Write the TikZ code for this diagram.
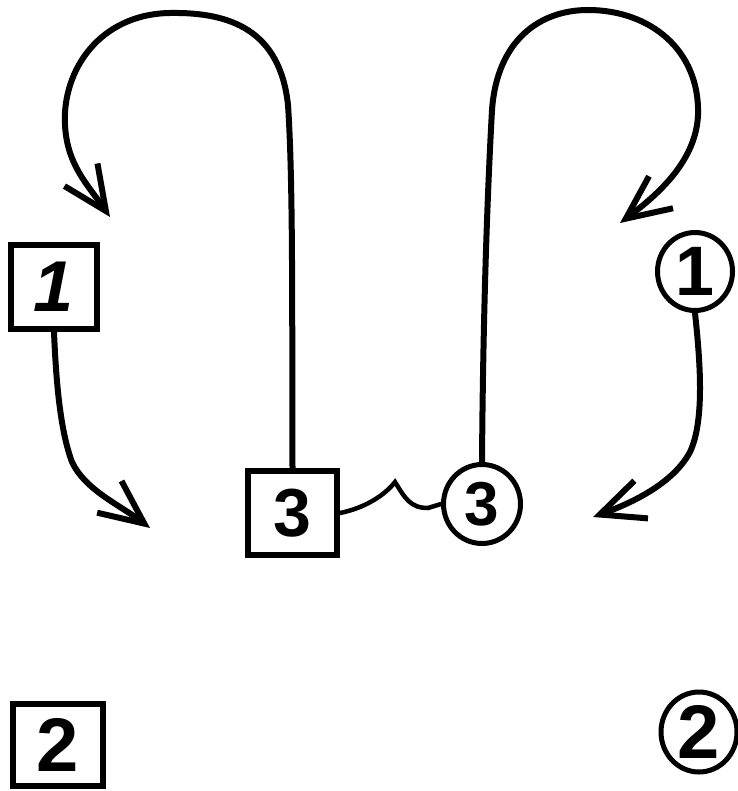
\documentclass[tikz,border=0pt]{standalone}
\usepackage{fontspec}
\setmainfont{Liberation Sans}
\usetikzlibrary{arrows.meta,shapes.geometric}
\begin{document}
\begin{tikzpicture}[x=1pt,y=-1pt,
  boxnode/.style={draw,line width=6pt,rectangle,inner sep=0pt},
  ringnode/.style={draw,line width=5pt,ellipse,inner sep=0pt},
  flow/.style={line width=6pt,line cap=round,line join=round,
    -{Straight Barb[length=44pt,width=40pt,line width=6pt]}},
  wave/.style={line width=4.5pt,line cap=round}]
\useasboundingbox[fill=white] (0,0) rectangle (737,791);
% nodes
\node[boxnode,minimum width=86pt,minimum height=84pt,font=\bfseries\fontsize{72}{72}\selectfont] (b1) at (54,287) {\itshape 1};
\node[boxnode,minimum width=89pt,minimum height=84pt,font=\bfseries\fontsize{68}{68}\selectfont] (b3) at (292.5,513) {3};
\node[boxnode,minimum width=90pt,minimum height=82pt,font=\bfseries\fontsize{76}{76}\selectfont] (b2) at (58,745) {2};
\node[ringnode,minimum width=75pt,minimum height=78pt,font=\bfseries\fontsize{70}{70}\selectfont] (c1) at (695,271.5) {1};
\node[ringnode,minimum width=77pt,minimum height=79pt,font=\bfseries\fontsize{62}{62}\selectfont] (c3) at (482,504) {3};
\node[ringnode,minimum width=76pt,minimum height=80pt,font=\bfseries\fontsize{76}{76}\selectfont] (c2) at (699,732) {2};
% free ends
\coordinate (tipA) at (110,217);
\coordinate (tipB) at (150,528);
\coordinate (tipC) at (620,223);
\coordinate (tipD) at (593,517);
\coordinate (peak) at (395,482);
% connectors
\draw[flow] (b3.north) .. controls (292,300) and (293,180) .. (288,105)
  .. controls (280,30) and (230,12) .. (170,13)
  .. controls (100,14) and (62,70) .. (65,125)
  .. controls (67,165) and (88,185) .. (tipA);
\draw[flow] (b1.south) .. controls (56,380) and (60,430) .. (72,462)
  .. controls (85,490) and (120,505) .. (tipB);
\draw[flow] (c3.north) .. controls (483,320) and (487,200) .. (492,110)
  .. controls (497,40) and (540,10) .. (588,10)
  .. controls (650,10) and (700,50) .. (698,115)
  .. controls (696,160) and (660,193) .. (tipC);
\draw[flow] (c1.south) .. controls (700,360) and (705,420) .. (690,452)
  .. controls (675,480) and (640,500) .. (tipD);
\draw[wave] (b3.east) .. controls (365,508) and (385,495) .. (peak)
  .. controls (405,498) and (410,508) .. (428,508) -- (c3.west);
\end{tikzpicture}
\end{document}
